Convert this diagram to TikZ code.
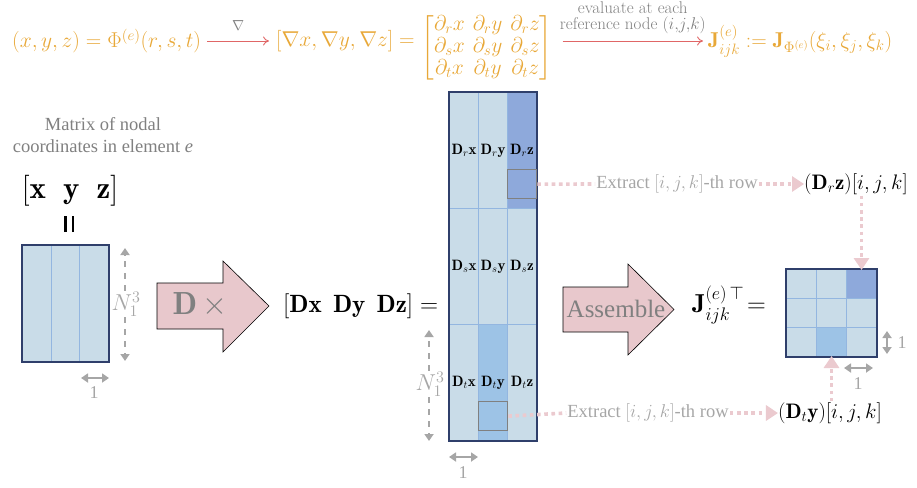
\RequirePackage{fix-cm}
\documentclass[tikz,border=0pt]{standalone}
\usepackage{amsmath,amssymb}
\usepackage{fontspec}
\newfontfamily\tnr{Liberation Serif}
\usetikzlibrary{arrows.meta}
\definecolor{orng}{HTML}{E8A838}
\definecolor{redarr}{HTML}{E06666}
\definecolor{txtgray}{HTML}{808080}
\definecolor{ltgray}{HTML}{A6A6A6}
\definecolor{pinkf}{HTML}{E8C8CC}
\definecolor{pinkd}{HTML}{EBCACF}
\definecolor{cellc}{HTML}{C9DCE8}
\definecolor{celldark}{HTML}{8EA9DB}
\definecolor{cellmed}{HTML}{9DC3E6}
\definecolor{cline}{HTML}{93B6E0}
\definecolor{navy}{HTML}{2F3F6B}
\tikzset{
  cell/.style={draw=cline, line width=1pt, fill=cellc, inner sep=0pt, anchor=north west},
  bigcell/.style={cell, minimum width=29pt, minimum height=116pt, font=\fontsize{15}{17}\selectfont},
  leftcell/.style={cell, minimum width=28.67pt, minimum height=116pt},
  smallcell/.style={cell, minimum width=30pt, minimum height=29pt},
  hlbox/.style={draw=txtgray, line width=1.3pt, inner sep=0pt, minimum width=29pt, minimum height=29pt, anchor=north west},
  border/.style={draw=navy, line width=1.2pt},
  redarrow/.style={draw=redarr, line width=0.9pt, -{To[length=6pt,width=9pt]}},
  fatarrow/.style={draw=black, line width=0.6pt, fill=pinkf},
  dimdash/.style={draw=ltgray, line width=2.6pt, dash pattern=on 6pt off 6pt, -{Triangle[width=9pt,length=7pt]}},
  dimsolid/.style={draw=ltgray, line width=2.6pt, {Triangle[width=9pt,length=7pt]}-{Triangle[width=9pt,length=7pt]}},
  pdot/.style={draw=pinkd, line width=3.6pt, dash pattern=on 3.6pt off 3.6pt},
  parrow/.style={-{Triangle[width=15pt,length=12pt]}, shorten >=-1pt},
  graylbl/.style={text=ltgray, font=\tnr\fontsize{18}{20}\selectfont, inner sep=1pt},
  nlbl/.style={text=ltgray, font=\fontsize{23}{25}\selectfont, inner sep=1pt},
  topf/.style={text=orng, anchor=west, inner sep=0pt, font=\fontsize{21.5}{25}\selectfont},
}
\begin{document}
\begin{tikzpicture}[x=1pt,y=-1pt]
\useasboundingbox (0,0) rectangle (917,487);

% ---- top formula line
\node[topf] (f1) at (12,41) {$(x,y,z) = \Phi^{(e)}(r,s,t)$};
\node[topf] (f2) at (276,41) {$[\nabla x, \nabla y, \nabla z] =$};
\node[topf, anchor=center] (f2m) at (487,48)
  {\renewcommand{\arraystretch}{0.88}\setlength{\arraycolsep}{4pt}$\begin{bmatrix} \partial_r x & \partial_r y & \partial_r z\\ \partial_s x & \partial_s y & \partial_s z\\ \partial_t x & \partial_t y & \partial_t z\end{bmatrix}$};
\node[topf] (f3) at (708,41) {$\mathbf{J}^{(e)}_{ijk} := \mathbf{J}_{\Phi^{(e)}}(\xi_i, \xi_j, \xi_k)$};
\draw[redarrow] ([xshift=6pt]f1.east) -- ([xshift=-7pt]f2.west|-f1.east)
  node[midway, above=7pt, text=txtgray, font=\fontsize{14.5}{16}\selectfont] (nab) {$\nabla$};
\draw[redarrow] ([xshift=10pt]f2m.east|-f1.east) -- ([xshift=-5pt]f3.west|-f1.east)
  node[midway, above=3pt, text=txtgray, align=center, font=\fontsize{17}{16}\selectfont] (ev)
  {evaluate at each\\reference node $(i,\!j,\!k)$};

% ---- left: nodal coordinates
\node[text=txtgray, align=center, font=\tnr\fontsize{18.5}{22}\selectfont] (title) at (103,135)
  {Matrix of nodal\\coordinates in element \textit{e}};
\node[font=\fontsize{31}{34}\selectfont] (xyz) at (70,191) {$[\mathbf{x}\hspace{0.55em}\mathbf{y}\hspace{0.55em}\mathbf{z}]$};
\node[inner sep=0pt] (eqv) at (69,224) {\rule{2.6pt}{16pt}\hspace{5pt}\rule{2.6pt}{16pt}};
\node[leftcell] (L1) at (22,245) {};
\node[leftcell] (L2) at (50.67,245) {};
\node[leftcell] (L3) at (79.33,245) {};
\draw[border] (L1.north west) rectangle (L3.south east);
\node[nlbl] (nl) at (126,304) {$N_1^3$};
\coordinate (nlt) at (125,248);
\coordinate (nlb) at (125,361);
\draw[dimdash] (nl.north-|nlt) -- (nlt);
\draw[dimdash] (nl.south-|nlb) -- (nlb);
\coordinate (ol1) at (81,378);
\coordinate (ol2) at (109,378);
\draw[dimsolid] (ol1) -- (ol2);
\node[graylbl] (one1) at (94,393) {1};

% ---- D x arrow
\draw[fatarrow] (157,283) -- (223,283) -- (223,261) -- (269,306) -- (223,352) -- (223,329) -- (157,329) -- cycle;
\node[text=txtgray, font=\fontsize{32}{34}\selectfont] (dx) at (200,305) {$\mathbf{D}\,\times$};

\node[anchor=west, inner sep=0pt, font=\fontsize{25}{28}\selectfont] (dxyz) at (283,306)
  {$[\mathbf{Dx}\hspace{0.45em}\mathbf{Dy}\hspace{0.45em}\mathbf{Dz}] =$};

% ---- big matrix
\node[bigcell] (b11) at (449,92) {$\mathbf{D}_r\mathbf{x}$};
\node[bigcell] (b12) at (478,92) {$\mathbf{D}_r\mathbf{y}$};
\node[bigcell, fill=celldark] (b13) at (507,92) {$\mathbf{D}_r\mathbf{z}$};
\node[bigcell] (b21) at (449,208) {$\mathbf{D}_s\mathbf{x}$};
\node[bigcell] (b22) at (478,208) {$\mathbf{D}_s\mathbf{y}$};
\node[bigcell] (b23) at (507,208) {$\mathbf{D}_s\mathbf{z}$};
\node[bigcell] (b31) at (449,324) {$\mathbf{D}_t\mathbf{x}$};
\node[bigcell, fill=cellmed] (b32) at (478,324) {$\mathbf{D}_t\mathbf{y}$};
\node[bigcell] (b33) at (507,324) {$\mathbf{D}_t\mathbf{z}$};
\draw[border] (b11.north west) rectangle (b33.south east);
\node[hlbox] (hl1) at (507,169) {};
\node[hlbox] (hl2) at (478,401) {};
\node[nlbl] (nm) at (430,384) {$N_1^3$};
\coordinate (nmt) at (429,330);
\coordinate (nmb) at (429,441);
\draw[dimdash] (nm.north-|nmt) -- (nmt);
\draw[dimdash] (nm.south-|nmb) -- (nmb);
\coordinate (om1) at (449,457);
\coordinate (om2) at (478,457);
\draw[dimsolid] (om1) -- (om2);
\node[graylbl] (one2) at (463,473) {1};

% ---- extract rows
\node[text=ltgray, font=\tnr\fontsize{18.5}{20}\selectfont, inner sep=1pt] (ex1) at (677,184) {Extract $[i,j,k]$-th row};
\node[font=\fontsize{21}{24}\selectfont, inner sep=1pt] (res1) at (856,184) {$(\mathbf{D}_r\mathbf{z})[i,j,k]$};
\node[text=ltgray, font=\tnr\fontsize{18.5}{20}\selectfont, inner sep=1pt] (ex2) at (648,413) {Extract $[i,j,k]$-th row};
\node[font=\fontsize{21}{24}\selectfont, inner sep=1pt] (res2) at (830,413) {$(\mathbf{D}_t\mathbf{y})[i,j,k]$};

% ---- assemble arrow
\draw[fatarrow] (563,287) -- (628,287) -- (628,264) -- (674,309.5) -- (628,355) -- (628,332) -- (563,332) -- cycle;
\node[text=txtgray, font=\tnr\fontsize{25}{28}\selectfont] (asm) at (616,309) {Assemble};
\node[font=\fontsize{26}{30}\selectfont] (jeq) at (729,305) {$\mathbf{J}^{(e)\,\top}_{ijk}\!=$};

% ---- small matrix
\node[smallcell] (s11) at (786,269) {};
\node[smallcell] (s12) at (816,269) {};
\node[smallcell, fill=celldark] (s13) at (846,269) {};
\node[smallcell] (s21) at (786,298) {};
\node[smallcell] (s22) at (816,298) {};
\node[smallcell] (s23) at (846,298) {};
\node[smallcell] (s31) at (786,327) {};
\node[smallcell, fill=cellmed] (s32) at (816,327) {};
\node[smallcell] (s33) at (846,327) {};
\draw[border] (s11.north west) rectangle (s33.south east);
\coordinate (os1) at (887,331);
\coordinate (os2) at (887,354);
\draw[dimsolid] (os1) -- (os2);
\node[graylbl] (one3) at (902,343) {1};
\coordinate (os3) at (844,368);
\coordinate (os4) at (873,368);
\draw[dimsolid] (os3) -- (os4);
\node[graylbl] (one4) at (858,384) {1};

% ---- pink dotted connectors
\draw[pdot] (hl1.east) -- (ex1.west);
\draw[pdot, parrow] (ex1.east) -- (res1.west);
\draw[pdot, parrow] (res1.south -| s13.north) -- (s13.north);
\draw[pdot] (hl2.east) -- (ex2.west);
\draw[pdot, parrow] (ex2.east) -- (res2.west);
\draw[pdot, parrow] (res2.north -| s32.south) -- (s32.south);
\end{tikzpicture}
\end{document}
